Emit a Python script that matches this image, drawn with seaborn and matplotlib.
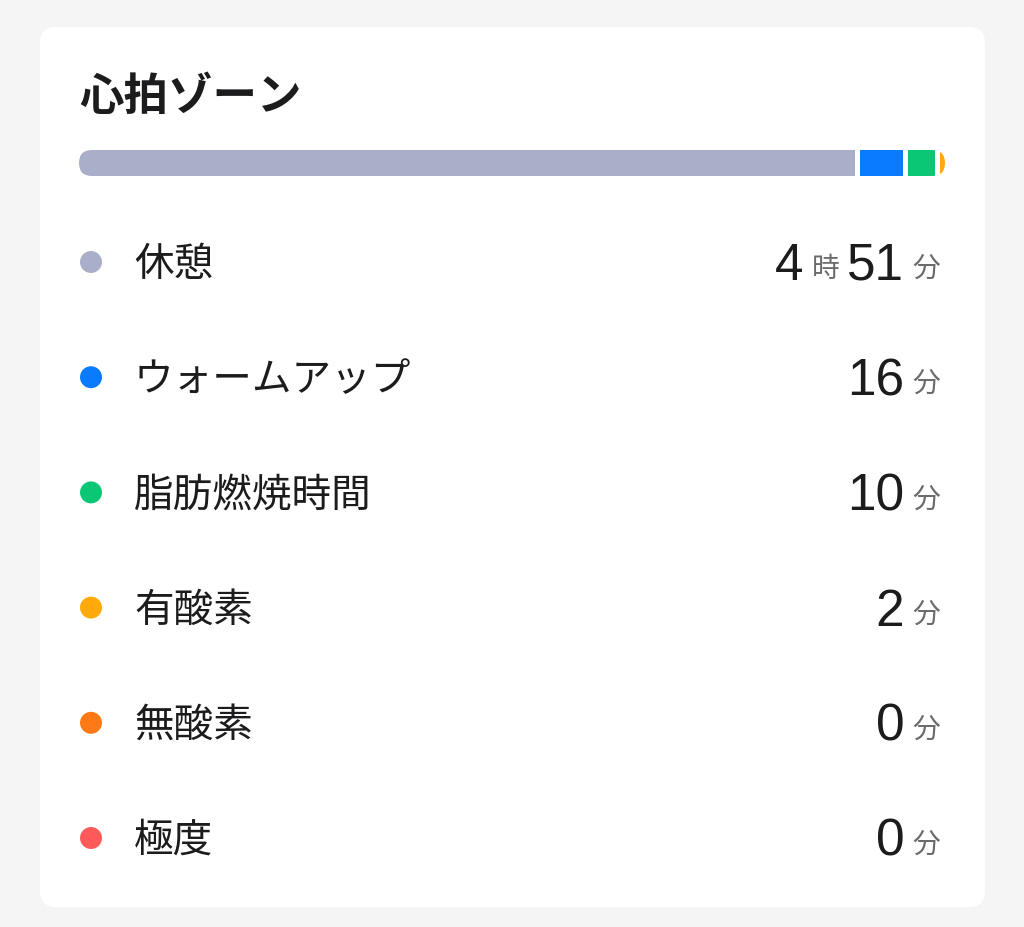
import matplotlib
matplotlib.use("Agg")
import matplotlib.pyplot as plt
from matplotlib.patches import FancyBboxPatch
import numpy as np
import pandas as pd
import seaborn as sns

# ---- data ----
title = "心拍ゾーン"
zones = ["休憩", "ウォームアップ", "脂肪燃焼時間", "有酸素", "無酸素", "極度"]
minutes = [291, 16, 10, 2, 0, 0]
colors = ["#a9afc8", "#0a7aff", "#0ac776", "#ffaa0a", "#ff7a14", "#ff5a5a"]
hour_unit = "時"
min_unit = "分"

sns.set_theme(style="white")
plt.rcParams['font.family'] = ['Noto Sans CJK JP', 'DejaVu Sans']

W, H = 1024, 927
fig = plt.figure(figsize=(W / 100, H / 100), dpi=100, facecolor="#f5f5f5")
ax = fig.add_axes([0, 0, 1, 1])
ax.set_xlim(0, W)
ax.set_ylim(H, 0)
ax.axis("off")
ax.set_facecolor("none")

# card
card = FancyBboxPatch((40, 27), 945, 880, boxstyle="round,pad=0,rounding_size=16",
                      facecolor="white", edgecolor="none", zorder=1)
ax.add_patch(card)

ax.text(79, 97, title, fontsize=32, fontweight="bold", color="#1c1c1e",
        ha="left", va="center", zorder=3)

# ---- stacked bar ----
bx, by, bw, bh = 79, 150, 866, 26
gap_px = 5
nz = [m for m in minutes if m > 0]
total = sum(nz)
n_gaps = len(nz) - 1
gap_units = gap_px * total / (bw - n_gaps * gap_px)
span = total + n_gaps * gap_units

bar_ax = fig.add_axes([bx / W, 1 - (by + bh) / H, bw / W, bh / H])
bar_ax.set_xlim(0, span)
bar_ax.set_ylim(-0.5, 0.5)
bar_ax.axis("off")
bar_ax.patch.set_alpha(0)

clip = FancyBboxPatch((bx, by), bw, bh, boxstyle="round,pad=0,rounding_size=13",
                      transform=ax.transData, facecolor="none", edgecolor="none")
left = 0.0
for m, c in zip(minutes, colors):
    if m <= 0:
        continue
    bars = bar_ax.barh([0], [m], left=[left], height=1.0, color=c, edgecolor="none")
    for b in bars:
        b.set_clip_path(clip)
    left += m + gap_units

# ---- list rows ----
row0, step = 262, 115.2
df = pd.DataFrame({"zone": zones, "x": [91] * len(zones),
                   "y": [row0 + i * step for i in range(len(zones))]})
sns.scatterplot(data=df, x="x", y="y", hue="zone", palette=colors, s=250,
                edgecolor="none", legend=False, ax=ax, zorder=4)
ax.set_xlim(0, W)
ax.set_ylim(H, 0)
ax.axis("off")

for i, z in enumerate(zones):
    ax.text(134, df["y"][i] + 3, z, fontsize=28.5, color="#1c1c1e",
            ha="left", va="center", zorder=4)

fig.canvas.draw()
renderer = fig.canvas.get_renderer()

def width_px(t):
    return t.get_window_extent(renderer).width

for i, m in enumerate(minutes):
    h, mm = divmod(m, 60)
    parts = []
    if h > 0:
        parts += [(str(h), "num"), (hour_unit, "unit"), (str(mm), "num"), (min_unit, "unit")]
    else:
        parts += [(str(mm), "num"), (min_unit, "unit")]
    yc = df["y"][i]
    x = 940
    for txt, kind in reversed(parts):
        if kind == "unit":
            t = ax.text(x, yc + 7, txt, fontsize=20, color="#6b6b6b", ha="right",
                        va="center", zorder=4)
            x -= width_px(t) + 8
        else:
            t = ax.text(x, yc + 18, txt, fontsize=37, color="#1c1c1e", ha="right",
                        va="baseline", family="Liberation Sans", zorder=4)
            x -= width_px(t) + 8

fig.savefig("out.png", dpi=100, facecolor=fig.get_facecolor())
